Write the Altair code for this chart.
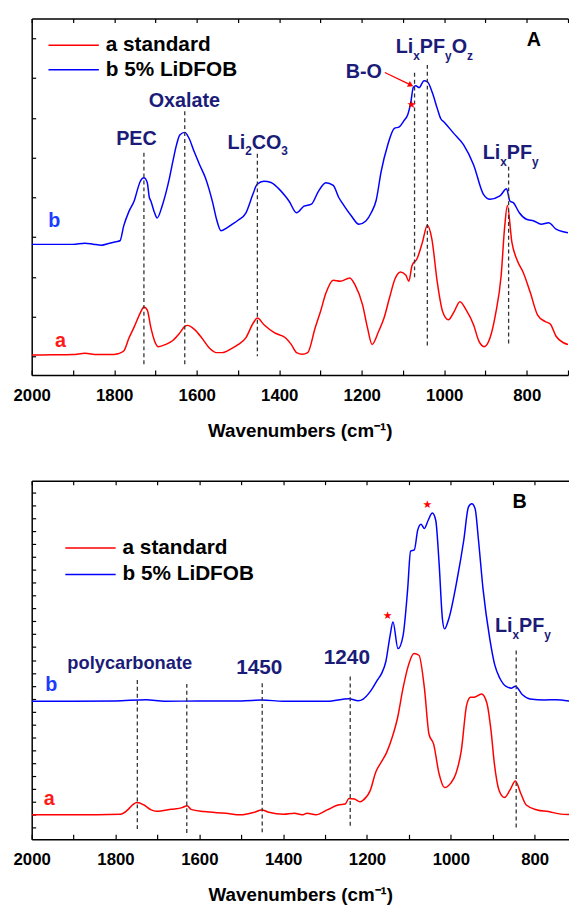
import altair as alt
import pandas as pd

FONT = "Liberation Sans"
NAVY = "#1b1b78"
RED = "#ff0000"
BLUE = "#0000ff"
DASH = "#333333"
SERIES = ["a standard", "b 5% LiDFOB"]
AXIS_TITLE = "Wavenumbers (cm⁻¹)"

# ---------------- Panel A data ----------------
A_red_wn = [2000, 1950, 1900, 1871, 1841, 1801, 1791, 1777, 1764, 1751, 1737, 1728, 1720, 1711, 1702, 1693,
            1675, 1658, 1641, 1628, 1622, 1605, 1588, 1570, 1552, 1539, 1516, 1499, 1481, 1463, 1453, 1437,
            1411, 1385, 1371, 1358, 1344, 1331, 1313, 1300, 1287, 1269, 1252, 1229, 1216, 1198, 1186, 1175,
            1159, 1146, 1133, 1119, 1106, 1093, 1086, 1078, 1066, 1053, 1041, 1030, 1017, 1004, 990, 976,
            962, 947, 929, 916, 903, 889, 876, 862, 854, 847, 836, 823, 809, 792, 774, 756, 743, 729, 711, 700]
A_red_h = [20.3, 20.5, 20.8, 22, 20.8, 20.8, 21.5, 24.3, 37.7, 49.3, 62.7, 69, 66, 47.7, 34.3, 28.7,
           31, 35, 42.7, 49.7, 50.3, 46, 37.7, 27.7, 22.7, 22.7, 26.7, 31, 37.7, 52.7, 57.7, 51,
           42.7, 37.7, 31, 22.7, 21, 22.7, 47.7, 64.3, 82.7, 96, 95, 98.3, 91, 71, 47.7, 31,
           44.3, 57.7, 77.7, 97.7, 104.3, 101, 95, 111, 117.7, 134.3, 151.7, 137.7, 94.3, 64.3, 56, 64.3,
           74.3, 66, 51, 34.3, 28.7, 37.7, 61, 101, 147.7, 171.7, 134.3, 116, 104.3, 84.3, 61, 54.3, 51.7, 39.3, 32.7, 31]

A_blue_wn = [2000, 1950, 1900, 1871, 1851, 1831, 1811, 1796, 1786, 1777, 1764, 1751, 1742, 1737, 1728, 1720,
             1715, 1711, 1702, 1696, 1684, 1675, 1666, 1658, 1649, 1641, 1629, 1619, 1606, 1593, 1579, 1570,
             1561, 1552, 1541, 1527, 1516, 1499, 1481, 1463, 1454, 1437, 1420, 1402, 1385, 1376, 1358, 1340,
             1322, 1305, 1287, 1269, 1256, 1247, 1225, 1207, 1190, 1177, 1165, 1153, 1137, 1121, 1109, 1097,
             1089, 1081, 1075, 1069, 1061, 1049, 1041, 1029, 1017, 1009, 1000, 977, 953, 929, 905, 889,
             865, 849, 841, 832, 818, 801, 783, 765, 747, 729, 711, 700]
A_blue_h = [132.3, 132.3, 132.3, 133.5, 132.5, 131.5, 133.5, 135, 136, 151, 166, 177, 190, 196, 199.7, 195,
            180, 176, 164, 159, 171, 184, 199.7, 216, 233, 243, 245.7, 240, 226, 213, 199.7, 188,
            174, 157.7, 146, 149, 152, 157, 164, 184, 193, 196.3, 195, 189, 181, 176, 164.3, 171,
            173, 186, 194.7, 192, 180, 174, 161, 152.7, 156, 164.3, 177, 206, 233, 249.7, 251.3, 258,
            263, 276.3, 291.3, 293, 291, 298, 297, 286, 270, 260, 256, 244.7, 233, 213, 183, 178,
            181.3, 188.7, 176.3, 174.3, 164.3, 157.7, 156, 152.7, 154.3, 147.7, 145, 144]

A_dash_wn = [1728, 1629, 1453, 1072, 1041, 844]
A_dash_top = [225, 267, 224, 306, 314, 211]
A_dash_bot = [10, 9, 19, 96, 30, 32]
A_star_wn = [1079]
A_star_h = [273.7]
A_arrow_wn = [1144, 1083]
A_arrow_h = [306.3, 294]

A_labels = [
    ([("PEC", 0)], 1746, 233),
    ([("Oxalate", 0)], 1630, 271.5),
    ([("Li", 0), ("2", 1), ("CO", 0), ("3", 1)], 1452, 229.3),
    ([("B-O", 0)], 1195, 301),
    ([("Li", 0), ("x", 1), ("PF", 0), ("y", 1), ("O", 0), ("z", 1)], 1024, 326.3),
    ([("Li", 0), ("x", 1), ("PF", 0), ("y", 1)], 839, 219),
]
A_curve_tags = [("b", 1945, 150.3, "#1a3cff"), ("a", 1930, 28, "#ff1a1a"), ("A", 783, 333, "black")]

# ---------------- Panel B data ----------------
B_red_wn = [2000, 1900, 1788, 1771, 1758, 1749, 1732, 1715, 1702, 1667, 1641, 1629, 1620, 1589, 1537, 1502,
            1469, 1451, 1434, 1399, 1373, 1355, 1343, 1322, 1295, 1269, 1252, 1243, 1230, 1217, 1209, 1192,
            1179, 1166, 1153, 1140, 1127, 1114, 1101, 1088, 1076, 1063, 1052, 1041, 1028, 1015, 1001, 988,
            975, 962, 953, 944, 927, 914, 904, 896, 885, 872, 859, 846, 833, 820, 794, 767, 741, 718]
B_red_h = [24.7, 24.7, 25.3, 29.7, 35.3, 37.3, 34.7, 29.7, 28.3, 30.3, 32, 34, 30.3, 28, 26.3, 24.7,
           27.3, 29.7, 27.3, 25.3, 26.3, 24.7, 26.3, 24.7, 29.7, 34.7, 35.7, 41.3, 40.7, 38, 39.7, 49.7,
           68, 78, 88, 103, 123, 153, 176.3, 188, 186.3, 153, 106.3, 96.3, 66.3, 52.3, 56.3, 66.3,
           89.7, 136.3, 143.7, 143.7, 147, 138, 109.7, 76.3, 49.7, 42.3, 49.7, 59, 46.3, 34.7, 29.7, 28, 25.7, 25]

B_blue_wn = [2000, 1900, 1800, 1727, 1683, 1600, 1500, 1450, 1400, 1295, 1243, 1221, 1209, 1192, 1175, 1165,
             1155, 1145, 1138, 1126, 1114, 1103, 1096, 1087, 1079, 1071, 1063, 1054, 1044, 1036, 1028, 1020,
             1015, 1005, 985, 969, 958, 950, 942, 934, 923, 907, 895, 883, 868, 855, 846, 829, 811, 776,
             750, 718]
B_blue_h = [139.7, 139.7, 140, 141.3, 139.7, 140, 140, 141, 139.7, 139.7, 142.3, 140.3, 142, 149.7, 161.3, 168,
            180, 206, 220, 193, 206, 253, 291.7, 293, 313, 319, 314.7, 323, 330.3, 323, 279.7, 223,
            213, 223, 263, 303, 336.3, 339.7, 334.7, 303, 253, 203, 176.3, 163, 154.7, 153, 155, 146.3, 142, 141,
            141.3, 140]

B_dash_wn = [1748, 1630, 1450, 1240, 844]
B_dash_top = [161.3, 157.3, 158, 164.7, 191]
B_dash_bot = [8, 4.7, 6.3, 11.3, 11.3]
B_star_wn = [1151, 1056]
B_star_h = [226, 338]

B_labels = [
    ([("polycarbonate", 0)], 1766, 172.3, 18.5),
    ([("1450", 0)], 1457, 167, 21),
    ([("1240", 0)], 1248, 177, 21),
    ([("Li", 0), ("x", 1), ("PF", 0), ("y", 1)], 828, 209.7, 20),
]
B_curve_tags = [("b", 1953, 149.7, "#1a3cff"), ("a", 1958, 34.7, "#ff1a1a"), ("B", 836, 335.7, "black")]

# Arial/Liberation Sans Bold advance widths (em)
CW = {"L": .611, "i": .278, "P": .667, "F": .611, "O": .778, "C": .722, "x": .556, "y": .556,
      "z": .5, "2": .556, "3": .556, "B": .722, "-": .333, "E": .667, "a": .556, "l": .278,
      "t": .333, "e": .556, "p": .611, "o": .611, "c": .556, "r": .389, "b": .611, "n": .611,
      "1": .556, "4": .556, "5": .556, "0": .556}


def tw(s, fs):
    return sum(CW.get(c, .6) for c in s) * fs


def build_panel(red_wn, red_h, blue_wn, blue_h, dash_wn, dash_top, dash_bot, star_wn, star_h,
                labels, tags, dom, H, W, yticks, xvals, legend_xy, row_pad, arrow=None):
    xs = alt.Scale(domain=dom, reverse=True, nice=False, zero=False)
    ys = alt.Scale(domain=[0, H], nice=False, zero=False)

    def X(axis=None):
        return alt.X("wn:Q", scale=xs, axis=axis)

    def Y(axis=None):
        return alt.Y("h:Q", scale=ys, axis=axis)

    curves = pd.concat([
        pd.DataFrame({"wn": red_wn, "h": red_h, "series": SERIES[0]}),
        pd.DataFrame({"wn": blue_wn, "h": blue_h, "series": SERIES[1]}),
    ])
    # main bottom axis: domain, labels, title (ticks drawn separately, inward)
    x_main = alt.Axis(orient="bottom", title=AXIS_TITLE, values=xvals, format="d",
                      labelExpr="datum.value % 200 === 0 ? datum.label : ''",
                      labelFont=FONT, labelFontSize=17, labelFontWeight="bold", labelColor="black",
                      labelPadding=13, labelFlush=False, ticks=False, domainColor="black", domainWidth=1.5,
                      grid=False, labelOverlap=False,
                      titleFont=FONT, titleFontSize=19, titleFontWeight="bold", titleColor="black",
                      titlePadding=18)
    x_ticks_in = alt.Axis(orient="bottom", title=None, values=xvals, labels=False, domain=False,
                          ticks=True, tickSize=5, offset=-5, tickColor="black", tickWidth=1.2, grid=False)
    x_top = alt.Axis(orient="top", title=None, values=xvals, labels=False, ticks=False, grid=False,
                     domainColor="black", domainWidth=1.5)
    x_top_ticks = alt.Axis(orient="top", title=None, values=xvals, labels=False, domain=False,
                           ticks=True, tickSize=4, offset=-4, tickColor="black", tickWidth=1.2, grid=False)
    y_main = alt.Axis(orient="left", title=None, labels=False, ticks=False, domainColor="black",
                      domainWidth=1.5, grid=False)
    y_ticks_in = alt.Axis(orient="left", title=None, labels=False, values=yticks, domain=False,
                          ticks=True, tickSize=4, offset=-4, tickColor="black", tickWidth=1.2, grid=False)

    legend = alt.Legend(orient="none", legendX=legend_xy[0], legendY=legend_xy[1], title=None,
                        symbolType="stroke", symbolSize=2601, symbolStrokeWidth=1.5,
                        labelFont=FONT, labelFontSize=21, labelFontWeight="bold", labelColor="black",
                        labelOffset=6, clipHeight=25, rowPadding=row_pad, padding=0, labelLimit=400)
    lines = alt.Chart(curves).mark_line(strokeWidth=1.5, clip=True, interpolate="monotone").encode(
        x=X(x_main), y=Y(y_main),
        color=alt.Color("series:N", scale=alt.Scale(domain=SERIES, range=[RED, BLUE]), legend=legend),
    )
    dashes = alt.Chart(pd.DataFrame({"wn": dash_wn, "h": dash_top, "h2": dash_bot})).mark_rule(
        color=DASH, strokeWidth=1.3, strokeDash=[4, 3]).encode(x=X(x_top), y=Y(y_ticks_in), y2="h2:Q")
    stars = alt.Chart(pd.DataFrame({"wn": star_wn, "h": star_h, "t": ["★"] * len(star_wn)})).mark_text(
        font="DejaVu Sans", fontSize=11, color=RED, baseline="middle").encode(
        x=X(x_ticks_in), y=Y(), text="t:N")
    layers = [lines, dashes, stars]

    tag_layers = []
    for t, wn, h, col in tags:
        d = pd.DataFrame({"wn": [wn], "h": [h], "t": [t]})
        tag_layers.append(alt.Chart(d).mark_text(
            align="center", baseline="alphabetic", font=FONT, fontSize=20, fontWeight="bold",
            color=col).encode(x=X(x_top_ticks if not tag_layers else None), y=Y(), text="t:N"))
    layers += tag_layers

    for item in labels:
        segs, wn, h = item[0], item[1], item[2]
        fs = item[3] if len(item) > 3 else 20
        fss = 12
        widths = [tw(t, fss if sub else fs) for t, sub in segs]
        off = -sum(widths) / 2
        for (t, sub), w in zip(segs, widths):
            d = pd.DataFrame({"wn": [wn], "h": [h], "t": [t]})
            layers.append(alt.Chart(d).mark_text(
                align="left", baseline="alphabetic", dx=off, dy=7 if sub else 0, font=FONT,
                fontSize=fss if sub else fs, fontWeight="bold", color=NAVY).encode(x=X(), y=Y(), text="t:N"))
            off += w

    if arrow is not None:
        awn, ah = arrow
        d = pd.DataFrame({"wn": [awn[0]], "wn2": [awn[1]], "h": [ah[0]], "h2": [ah[1]]})
        layers.append(alt.Chart(d).mark_rule(color=RED, strokeWidth=1.3).encode(
            x=X(), x2="wn2:Q", y=Y(), y2="h2:Q"))
        dh = pd.DataFrame({"wn": [awn[1]], "h": [ah[1]]})
        layers.append(alt.Chart(dh).mark_point(shape="triangle", filled=True, color=RED, size=40,
                                               angle=117, opacity=1).encode(x=X(), y=Y()))

    return alt.layer(*layers).resolve_axis(x="independent", y="independent").properties(width=W, height=H)


A_yticks = [19 + 40.25 * k for k in range(9)]
B_yticks = [12.3 + 13.015 * k for k in range(27)]

panelA = build_panel(A_red_wn, A_red_h, A_blue_wn, A_blue_h, A_dash_wn, A_dash_top, A_dash_bot,
                     A_star_wn, A_star_h, A_labels, A_curve_tags, [700, 2000], 361, 543, A_yticks,
                     list(range(700, 2001, 100)), (16, 14.5), 0, arrow=(A_arrow_wn, A_arrow_h))
panelB = build_panel(B_red_wn, B_red_h, B_blue_wn, B_blue_h, B_dash_wn, B_dash_top, B_dash_bot,
                     B_star_wn, B_star_h, B_labels, B_curve_tags, [718, 2000], 363, 544, B_yticks,
                     list(range(800, 2001, 100)), (33, 55.5), 2)

chart = alt.vconcat(panelA, panelB, spacing=40).resolve_scale(
    x="independent", y="independent", color="independent").resolve_legend(
    color="independent").properties(
    padding={"left": 5, "top": 4, "right": 0, "bottom": 0}).configure_view(stroke=None)

chart.save("out.html", embed_options={"renderer": "svg", "actions": False})
